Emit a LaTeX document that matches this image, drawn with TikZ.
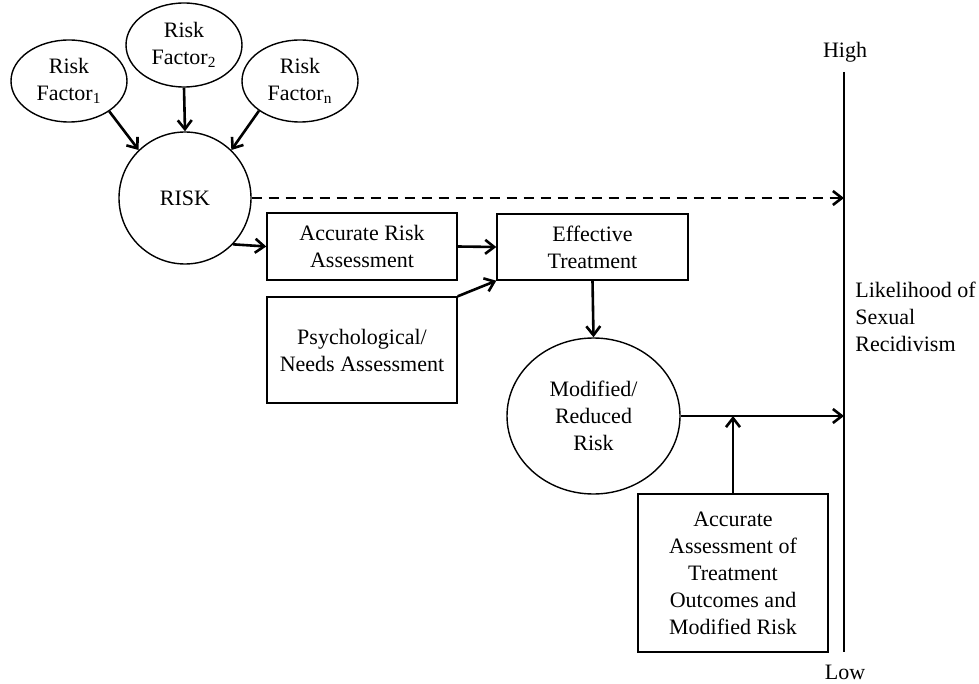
\documentclass[tikz,border=0pt]{standalone}
\usepackage{fontspec}
\setmainfont{Liberation Serif}
\usetikzlibrary{shapes.geometric,arrows.meta}
\begin{document}
\begin{tikzpicture}[x=0.5pt,y=-0.5pt,
  every node/.style={font=\fontsize{11}{13.5}\selectfont, align=center, inner sep=0pt},
  factor/.style={ellipse, draw, line width=0.7pt, minimum width=58pt, minimum height=41pt},
  stepbox/.style={rectangle, draw, line width=0.7pt},
  flow/.style={line width=1.3pt, -{Straight Barb[length=4.5pt,width=7pt,line width=1.3pt]}},
  axisline/.style={line width=1.3pt}
]
\useasboundingbox (0,0) rectangle (979,684);

% risk factors feeding into overall risk
\node[factor] (rf1) at (69,81) {Risk\\Factor\textsubscript{1}};
\node[factor, minimum height=42pt] (rf2) at (184,45) {Risk\\Factor\textsubscript{2}};
\node[factor] (rfn) at (300,81) {Risk\\Factor\textsubscript{n}};
\node[circle, draw, line width=0.7pt, minimum size=66pt] (risk) at (185,198) {RISK};

% assessment and treatment boxes
\node[stepbox, minimum width=95pt, minimum height=33.5pt] (ara) at (362,246.5) {Accurate Risk\\Assessment};
\node[stepbox, minimum width=95.5pt, minimum height=33pt] (et) at (592.5,247) {Effective\\Treatment};
\node[stepbox, minimum width=95pt, minimum height=53pt] (psy) at (362,350) {Psychological/\\Needs Assessment};
\node[ellipse, draw, line width=0.7pt, minimum width=86.5pt, minimum height=78pt] (mod) at (593.5,416) {Modified/\\Reduced\\Risk};
\node[stepbox, minimum width=95pt, minimum height=79pt] (acc) at (733,573) {Accurate\\Assessment of\\Treatment\\Outcomes and\\Modified Risk};

% recidivism scale
\coordinate (axtop) at (844,72);
\coordinate (axbot) at (844,652);
\draw[axisline] (axtop) -- (axbot);
\node (high) at (845,52) {High};
\node (low) at (845,672) {Low};
\node[anchor=west, align=left] (lik) at (855,317) {Likelihood of\\Sexual\\Recidivism};

% connectors
\draw[flow] (rf1.-37) -- (risk.134);
\draw[flow] (rf2.south) -- (risk.north);
\draw[flow] (rfn.-144) -- (risk.46);
\draw[flow, dash pattern=on 5pt off 3.5pt] (risk.east) -- (risk.east -| axtop);
\draw[flow] (risk.-44) -- (ara.west);
\draw[flow] (ara.east) -- (et.west);
\draw[flow] (psy.north east) -- (et.south west);
\draw[flow] (et.south) -- (mod.north);
\draw[flow] (mod.east) -- (mod.east -| axtop);
\draw[flow] (acc.north) -- (acc.north |- mod.east);
\end{tikzpicture}
\end{document}
